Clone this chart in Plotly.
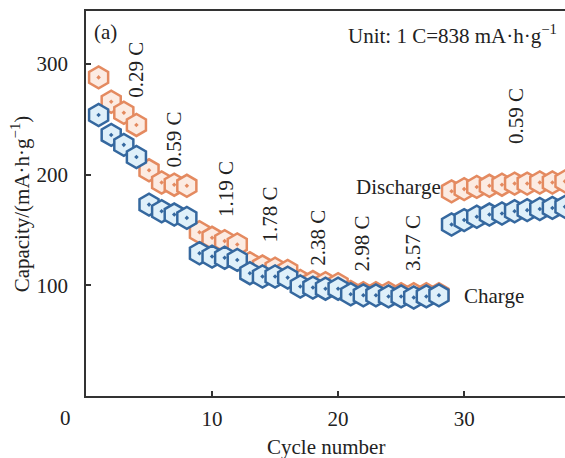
import plotly.graph_objects as go

cycles = list(range(1, 39))
discharge = [288, 266, 256, 245,
             204, 193, 191, 190,
             148, 143, 140, 137,
             120, 117, 115, 113,
             104, 103, 102, 101,
             94, 93, 93, 93,
             92, 92, 92, 92,
             185, 187, 189, 190, 191, 192, 192, 193, 193, 194]
charge = [254, 236, 227, 216,
          173, 167, 164, 161,
          129, 126, 125, 123,
          111, 108, 108, 107,
          99, 98, 97, 97,
          92, 91, 91, 90,
          90, 89, 90, 91,
          155, 159, 162, 164, 165, 167, 168, 169, 170, 171]
rate_labels = ["0.29 C", "0.59 C", "1.19 C", "1.78 C", "2.38 C", "2.98 C", "3.57 C", "0.59 C"]
rate_x = [3.9, 7.0, 11.1, 14.6, 18.4, 21.9, 26.0, 34.1]
rate_y = [295, 232, 187, 164, 143, 138, 138, 253]
xtick_vals = [10, 20, 30]
ytick_vals = [100, 200, 300]

FONT = "Liberation Serif"
FS = 21
TXT = "#222222"


def txt_font():
    return dict(family=FONT, size=FS, color=TXT)


fig = go.Figure()
fig.add_trace(go.Scatter(
    x=cycles, y=discharge, mode="markers", name="Discharge",
    marker=dict(symbol="hexagon-dot", size=22, color="#fcebe2",
                line=dict(color="#e48a60", width=2.5)),
))
fig.add_trace(go.Scatter(
    x=cycles, y=charge, mode="markers", name="Charge",
    marker=dict(symbol="hexagon-dot", size=22, color="#dff0fa",
                line=dict(color="#35689f", width=2.5)),
))

ann = []
for t, xv, yv in zip(rate_labels, rate_x, rate_y):
    ann.append(dict(x=xv, y=yv, xref="x", yref="y", text=t, textangle=-90,
                    showarrow=False, xanchor="center", yanchor="middle", font=txt_font()))
ann += [
    dict(x=24.8, y=189, xref="x", yref="y", text="Discharge", showarrow=False,
         xanchor="center", yanchor="middle", font=txt_font()),
    dict(x=32.4, y=90, xref="x", yref="y", text="Charge", showarrow=False,
         xanchor="center", yanchor="middle", font=txt_font()),
    dict(x=0.5, y=329, xref="x", yref="y", text="(a)", showarrow=False,
         xanchor="left", yanchor="middle", font=txt_font()),
    dict(x=0.987, y=0.94, xref="paper", yref="paper",
         text="Unit: 1 C=838 mA·h·g<sup>−1</sup>", showarrow=False,
         xanchor="right", yanchor="middle", font=txt_font()),
    dict(x=-0.042, y=-0.057, xref="paper", yref="paper", text="0", showarrow=False,
         xanchor="center", yanchor="middle", font=txt_font()),
    dict(x=0.5, y=-0.1325, xref="paper", yref="paper", text="Cycle number",
         showarrow=False, xanchor="center", yanchor="middle", font=txt_font()),
    dict(x=-0.136, y=0.5, xref="paper", yref="paper",
         text="Capacity/(mA·h·g<sup>−1</sup>)", textangle=-90, showarrow=False,
         xanchor="center", yanchor="middle", font=txt_font()),
]

fig.update_layout(
    width=565, height=458,
    margin=dict(l=86, r=0, t=11, b=62),
    paper_bgcolor="white", plot_bgcolor="white",
    showlegend=False,
    font=txt_font(),
    annotations=ann,
    xaxis=dict(range=[0, 38], tickvals=xtick_vals, ticks="inside", ticklen=5,
               tickwidth=1.5, tickcolor="#333", showline=True, linecolor="#333",
               linewidth=1.5, mirror=True, showgrid=False, zeroline=False,
               ticklabelstandoff=3, tickfont=txt_font()),
    yaxis=dict(range=[0, 348], tickvals=ytick_vals, ticks="inside", ticklen=5,
               tickwidth=1.5, tickcolor="#333", showline=True, linecolor="#333",
               linewidth=1.5, mirror=False, showgrid=False, zeroline=False,
               ticklabelstandoff=12, tickfont=txt_font()),
)

fig.write_html("out.html")
